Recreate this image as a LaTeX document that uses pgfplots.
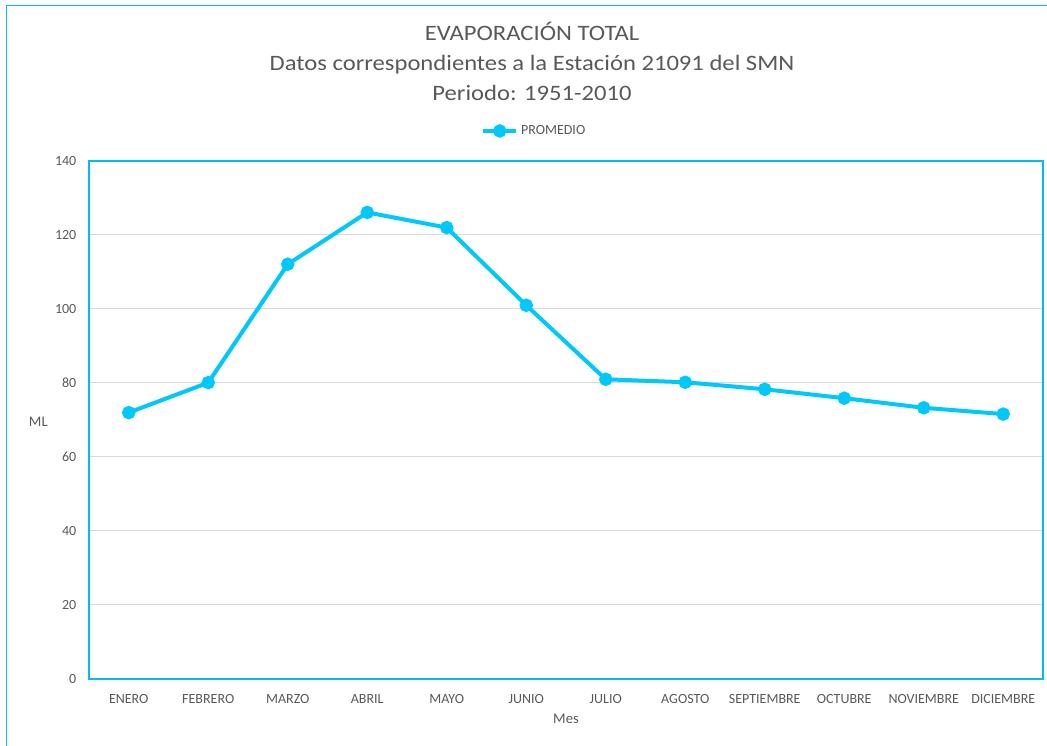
\documentclass[border=0pt]{standalone}
\usepackage{pgfplots}
\pgfplotsset{compat=1.18}
\usepackage{fontspec}
\setmainfont{Carlito}
\newfontfamily\titlefont{Carlito}[FakeStretch=1.12]
\definecolor{txt}{RGB}{89,89,89}
\definecolor{linec}{RGB}{0,200,250}
\definecolor{bord}{RGB}{0,190,240}
\definecolor{gridc}{RGB}{217,217,217}
\pgfplotstableread{
x y
0 72.0
1 80.1
2 112.1
3 126.1
4 122.0
5 101.0
6 81.0
7 80.2
8 78.3
9 75.9
10 73.3
11 71.6
}\datatable
\begin{document}
\begin{tikzpicture}
\useasboundingbox (0,0) rectangle (785.25pt,559.5pt);
\draw[bord, line width=1.2pt] (5pt,-10pt) -- (5pt,555.5pt) -- (800pt,555.5pt);
\node[anchor=base, text=txt, font=\titlefont\fontsize{16.5pt}{18pt}\selectfont] at (399pt,528.75pt) {EVAPORACIÓN TOTAL};
\node[anchor=base, text=txt, font=\titlefont\fontsize{16.5pt}{18pt}\selectfont] at (399pt,506.25pt) {Datos correspondientes a la Estación 21091 del SMN};
\node[anchor=base, text=txt, font=\titlefont\fontsize{16.5pt}{18pt}\selectfont] at (399pt,483.75pt) {Periodo: 1951-2010};
\begin{axis}[
  at={(66.75pt,50.25pt)}, anchor=south west,
  width=715.5pt, height=388.5pt, scale only axis,
  xmin=-0.5, xmax=11.5, ymin=0, ymax=140,
  ytick={0,20,...,140},
  xtick=data,
  xticklabels={ENERO,FEBRERO,MARZO,ABRIL,MAYO,JUNIO,JULIO,AGOSTO,SEPTIEMBRE,OCTUBRE,NOVIEMBRE,DICIEMBRE},
  major tick length=0pt,
  axis line style={bord, line width=1.2pt},
  ymajorgrids, grid style={gridc, line width=0.75pt},
  tick label style={font=\fontsize{10.5pt}{12pt}\selectfont, text=txt},
  yticklabel style={xshift=-6pt},
  xticklabel style={yshift=-8pt},
  /pgf/number format/assume math mode=true,
  xlabel={Mes}, ylabel={ML},
  label style={font=\fontsize{11pt}{13pt}\selectfont, text=txt},
  xlabel style={at={(0.5,0)}, anchor=center, yshift=-30pt},
  ylabel style={at={(0,0.496)}, rotate=-90, anchor=center, xshift=-38pt},
  legend style={at={(0.467,1.058)}, anchor=center, draw=none, fill=none,
    font=\fontsize{10.5pt}{12pt}\selectfont, text=txt, inner sep=0pt},
  legend image code/.code={
    \draw[linec, line width=3pt] (0pt,0pt) -- (25pt,0pt);
    \fill[linec] (12.5pt,0pt) circle (3.5pt);
  },
  clip=false,
]
\addplot[linec, line width=3pt, mark=*, mark size=3.5pt, mark options={fill=linec, draw=none}] table[x=x,y=y] {\datatable};
\addlegendentry{PROMEDIO}
\end{axis}
\end{tikzpicture}
\end{document}
